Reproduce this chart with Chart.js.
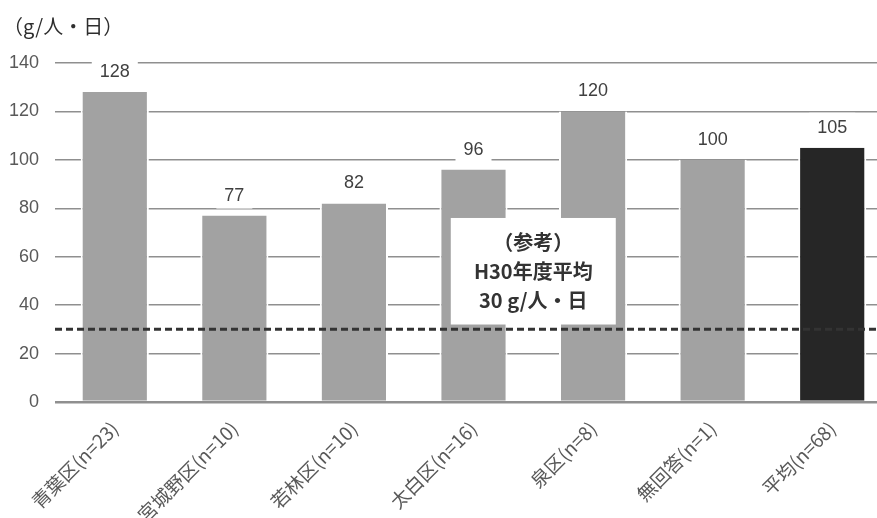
<!DOCTYPE html>
<html lang="ja">
<head>
<meta charset="utf-8">
<title>区別 平均排出量</title>
<script src="https://cdn.jsdelivr.net/npm/chart.js@4.4.1/dist/chart.umd.min.js"></script>
<style>
  html, body { margin: 0; padding: 0; background: #fff; overflow: hidden; }
  #wrap { width: 892px; height: 518px; }
</style>
</head>
<body>
<div id="wrap"><canvas id="c" width="892" height="518"></canvas></div>
<script>
// Categories (wards with respondent counts) and their daily amounts
const categories = ['青葉区(n=23)', '宮城野区(n=10)', '若林区(n=10)', '太白区(n=16)', '泉区(n=8)', '無回答(n=1)', '平均(n=68)'];
const values = [128, 77, 82, 96, 120, 100, 105];
const yTicks = [0, 20, 40, 60, 80, 100, 120, 140];
// Reference value: FY H30 average
const referenceValue = 30;
const referenceLines = ['（参考）', 'H30年度平均', '30 g/人・日'];
const unitLabel = '（g/人・日）';

const barColors = values.map((v, i) => i === values.length - 1 ? '#262626' : '#a2a2a2');

const CJK = '"Noto Sans CJK JP", "Noto Sans", sans-serif';
const NUM = '"Liberation Sans", Arial, sans-serif';

// Unit caption at the top left
const unitPlugin = {
  id: 'unitCaption',
  afterDraw(chart) {
    const ctx = chart.ctx;
    ctx.save();
    ctx.font = '20px ' + CJK;
    ctx.fillStyle = '#2e2e2e';
    ctx.textAlign = 'left';
    ctx.textBaseline = 'middle';
    ctx.fillText(unitLabel, 3, 26);
    ctx.restore();
  }
};

// Dashed reference line across the plot
const refLinePlugin = {
  id: 'refLine',
  afterDatasetsDraw(chart) {
    const { ctx, chartArea, scales } = chart;
    const y = scales.y.getPixelForValue(referenceValue);
    ctx.save();
    ctx.strokeStyle = '#333333';
    ctx.lineWidth = 3;
    ctx.setLineDash([7, 4]);
    ctx.beginPath();
    ctx.moveTo(chartArea.left, y);
    ctx.lineTo(chartArea.right, y);
    ctx.stroke();
    ctx.restore();
  }
};

// Value labels on white boxes above each bar
const valueLabelPlugin = {
  id: 'valueLabels',
  afterDatasetsDraw(chart) {
    const ctx = chart.ctx;
    const meta = chart.getDatasetMeta(0);
    ctx.save();
    ctx.font = '18px ' + NUM;
    ctx.textAlign = 'center';
    ctx.textBaseline = 'middle';
    meta.data.forEach((bar, i) => {
      const text = String(values[i]);
      const w = ctx.measureText(text).width + 16;
      const h = 28;
      const cx = bar.x;
      const cy = bar.y - 21;
      ctx.fillStyle = '#ffffff';
      ctx.fillRect(cx - w / 2, cy - h / 2, w, h);
      ctx.fillStyle = '#404040';
      ctx.fillText(text, cx, cy + 1);
    });
    ctx.restore();
  }
};

// Reference note box between the 4th and 5th categories
const notePlugin = {
  id: 'referenceNote',
  afterDatasetsDraw(chart) {
    const { ctx, scales } = chart;
    const x3 = scales.x.getPixelForValue(3);
    const x4 = scales.x.getPixelForValue(4);
    const cx = (x3 + x4) / 2;
    const top = scales.y.getPixelForValue(76);
    const bottom = scales.y.getPixelForValue(32);
    const w = 165;
    ctx.save();
    ctx.fillStyle = '#ffffff';
    ctx.fillRect(cx - w / 2, top, w, bottom - top);
    ctx.font = 'bold 20px ' + CJK;
    ctx.fillStyle = '#333333';
    ctx.textAlign = 'center';
    ctx.textBaseline = 'middle';
    const mid = (top + bottom) / 2;
    const gap = 29;
    referenceLines.forEach((line, i) => {
      ctx.fillText(line, cx, mid + (i - 1) * gap);
    });
    ctx.restore();
  }
};

new Chart(document.getElementById('c'), {
  type: 'bar',
  data: {
    labels: categories,
    datasets: [{
      data: values,
      backgroundColor: barColors,
      borderColor: '#ffffff',
      borderWidth: { top: 0, left: 2, right: 2, bottom: 0 },
      borderSkipped: false,
      barPercentage: 0.57,
      categoryPercentage: 1.0
    }]
  },
  options: {
    responsive: false,
    animation: false,
    layout: { padding: { top: 63, left: 0, right: 0, bottom: 0 } },
    plugins: {
      legend: { display: false },
      tooltip: { enabled: false },
      title: { display: false }
    },
    scales: {
      x: {
        grid: { display: false, drawTicks: false },
        border: { display: false },
        ticks: {
          minRotation: 45,
          maxRotation: 45,
          autoSkip: false,
          padding: 15,
          color: '#595959',
          font: { family: CJK, size: 19 }
        },
        afterFit(scale) { scale.height = 116; }
      },
      y: {
        min: 0,
        max: 140,
        afterBuildTicks(scale) { scale.ticks = yTicks.map(v => ({ value: v })); },
        grid: {
          color: '#8f8f8f',
          lineWidth: ctx => ctx.tick && ctx.tick.value === 0 ? 2.5 : 1.5,
          drawTicks: false
        },
        border: { display: false },
        ticks: {
          padding: 16,
          color: '#595959',
          font: { family: NUM, size: 18 }
        },
        afterFit(scale) { scale.width = 55; }
      }
    }
  },
  plugins: [unitPlugin, refLinePlugin, valueLabelPlugin, notePlugin]
});
</script>
</body>
</html>
